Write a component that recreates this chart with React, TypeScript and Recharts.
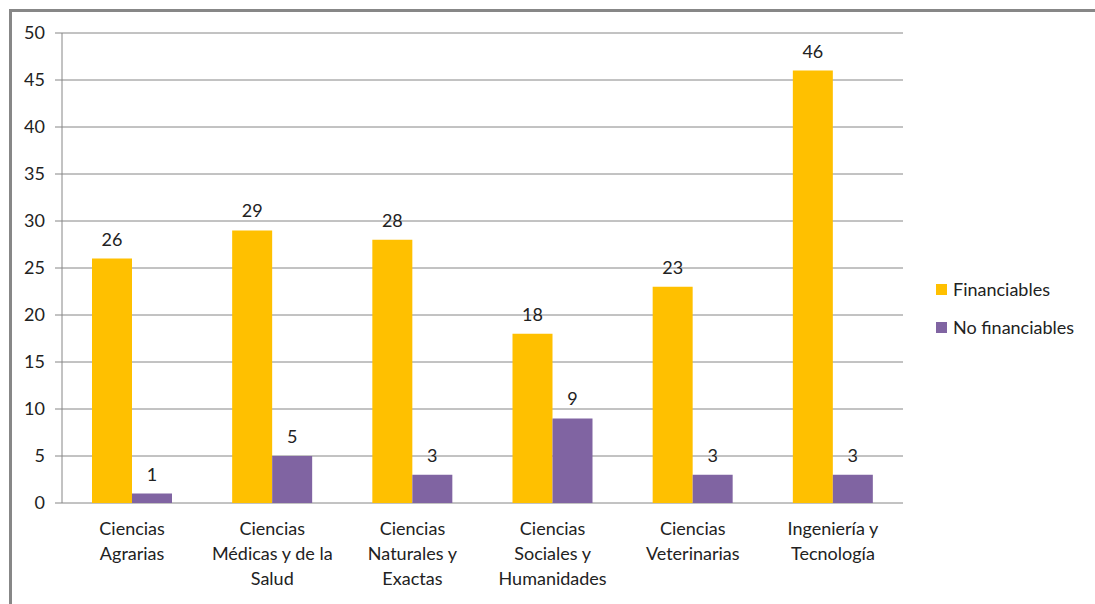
import { BarChart, Bar, XAxis, YAxis, CartesianGrid, LabelList } from 'recharts';

const categories = [
  'Ciencias\nAgrarias',
  'Ciencias\nMédicas y de la\nSalud',
  'Ciencias\nNaturales y\nExactas',
  'Ciencias\nSociales y\nHumanidades',
  'Ciencias\nVeterinarias',
  'Ingeniería y\nTecnología',
];
const financiables = [26, 29, 28, 18, 23, 46];
const noFinanciables = [1, 5, 3, 9, 3, 3];
const yTicks = [0, 5, 10, 15, 20, 25, 30, 35, 40, 45, 50];
const edgeTicks = [0, 1, 2, 3, 4, 5, 6];
const seriesNames = ['Financiables', 'No financiables'];

const data = categories.map((name, i) => ({
  name,
  fin: financiables[i],
  nofin: noFinanciables[i],
}));

const FONT = 'Lato, "Open Sans", sans-serif';
const TEXT = '#222222';
const GRID = '#868686';
const ORANGE = '#FFC000';
const PURPLE = '#8064A2';
const FS = 18;

const CategoryTick = ({ x, y, payload }: any) => {
  const lines = String(payload.value).split('\n');
  return (
    <g transform={`translate(${x},${y})`}>
      <text textAnchor="middle" fill={TEXT} fontSize={FS} fontFamily={FONT}>
        {lines.map((line, i) => (
          <tspan key={i} x={0} dy={i === 0 ? 22 : 25}>
            {line}
          </tspan>
        ))}
      </text>
    </g>
  );
};

// only the tick marks between categories, no labels
const EmptyTick = () => <g />;

const LegendBox = () => (
  <div style={{ position: 'absolute', left: 936, top: 270, fontFamily: FONT, fontSize: FS, color: TEXT }}>
    {seriesNames.map((label, i) => (
      <div key={label} style={{ display: 'flex', alignItems: 'center', height: 38 }}>
        <span
          style={{
            width: 11,
            height: 11,
            background: i === 0 ? ORANGE : PURPLE,
            marginRight: 6,
            display: 'inline-block',
          }}
        />
        <span>{label}</span>
      </div>
    ))}
  </div>
);

export default function App() {
  return (
    <div style={{ position: 'absolute', left: 0, top: 0, width: 1095, height: 604, overflow: 'hidden', background: '#fff' }}>
      <div
        style={{
          position: 'absolute',
          left: 9,
          top: 9,
          width: 1200,
          height: 700,
          borderLeft: '3px solid #878787',
          borderTop: '3px solid #878787',
        }}
      />
      <div style={{ position: 'absolute', left: 0, top: 0 }}>
        <BarChart
          width={1095}
          height={604}
          data={data}
          margin={{ top: 33, right: 192, bottom: 21, left: 0 }}
          barGap={0}
        >
          <CartesianGrid horizontal vertical={false} stroke={GRID} strokeWidth={1} xAxisId="edge" />
          <XAxis
            xAxisId="edge"
            type="number"
            domain={[0, 6]}
            ticks={edgeTicks}
            allowDataOverflow
            tick={<EmptyTick />}
            tickSize={7}
            tickLine={{ stroke: GRID }}
            axisLine={{ stroke: GRID }}
            height={0}
          />
          <XAxis
            xAxisId="cat"
            dataKey="name"
            interval={0}
            tickLine={false}
            axisLine={false}
            tick={<CategoryTick />}
            tickMargin={4}
            height={80}
          />
          <YAxis
            domain={[0, 50]}
            ticks={yTicks}
            width={62}
            tickSize={7}
            tickMargin={10}
            tickLine={{ stroke: GRID }}
            axisLine={{ stroke: GRID }}
            tick={{ fill: TEXT, fontSize: FS, fontFamily: FONT }}
          />
          <Bar xAxisId="cat" dataKey="fin" name={seriesNames[0]} fill={ORANGE} barSize={40} isAnimationActive={false}>
            <LabelList dataKey="fin" position="top" offset={13} fill={TEXT} fontSize={FS} fontFamily={FONT} />
          </Bar>
          <Bar xAxisId="cat" dataKey="nofin" name={seriesNames[1]} fill={PURPLE} barSize={40} isAnimationActive={false}>
            <LabelList dataKey="nofin" position="top" offset={13} fill={TEXT} fontSize={FS} fontFamily={FONT} />
          </Bar>
        </BarChart>
      </div>
      <LegendBox />
    </div>
  );
}
